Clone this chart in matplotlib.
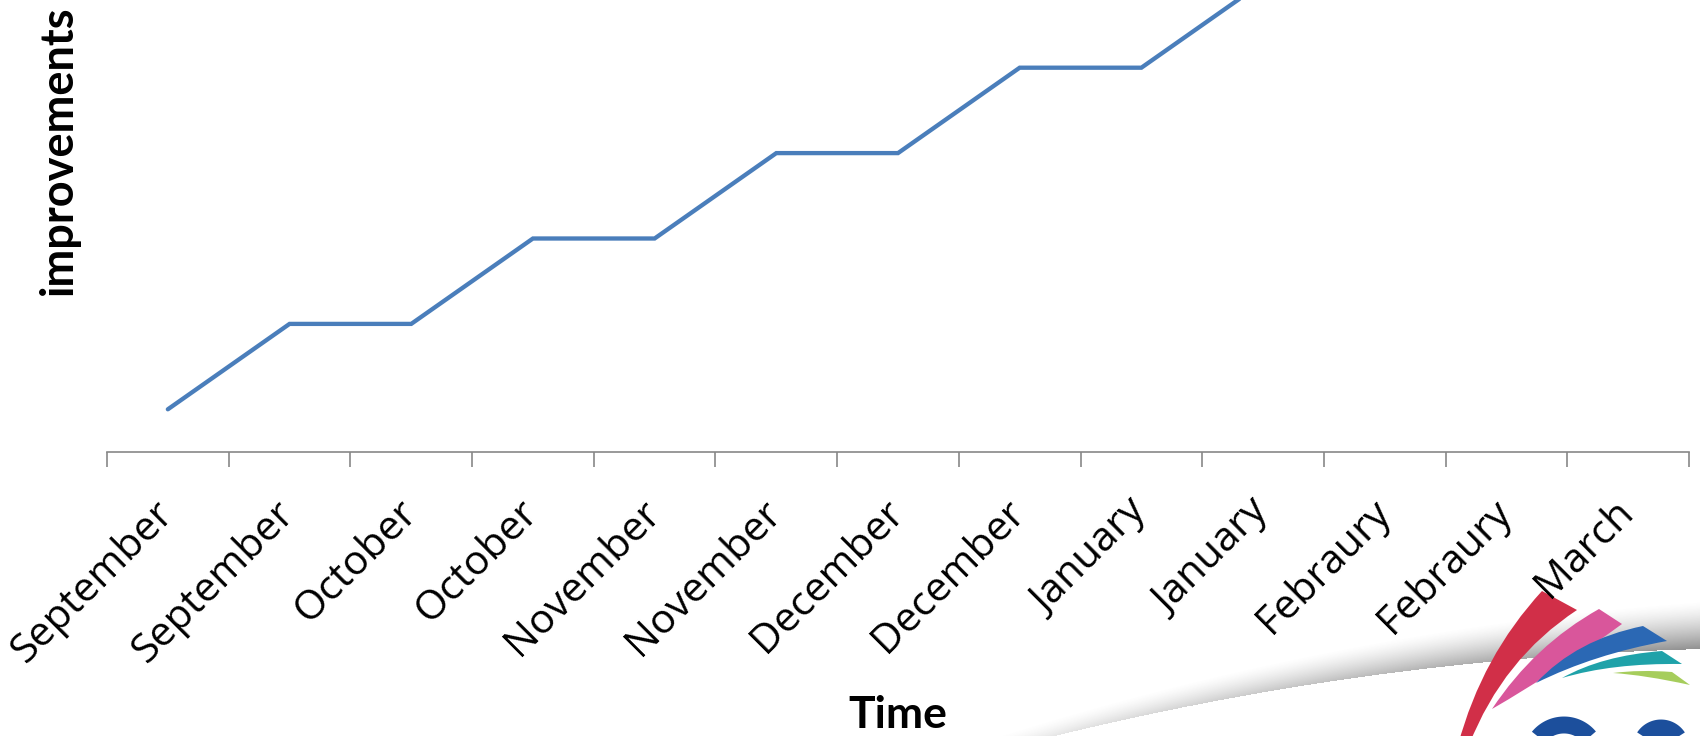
import matplotlib.pyplot as plt
import matplotlib.transforms as mtransforms
import numpy as np
from matplotlib.path import Path
from matplotlib.patches import PathPatch

# progress over the school year: one flat step per month
months = ['September', 'September', 'October', 'October', 'November',
          'November', 'December', 'December', 'January', 'January',
          'Febraury', 'Febraury', 'March']
improvements = [1, 2, 2, 3, 3, 4, 4, 5, 5, 6]

W, H = 1700, 736
fig = plt.figure(figsize=(W / 100, H / 100), dpi=100)
fig.patch.set_facecolor('white')

#####
# Logo layer, drawn in pixel units underneath the chart
#####
bg = fig.add_axes([0, 0, 1, 1], zorder=0)
bg.set_xlim(0, W)
bg.set_ylim(H, 0)
bg.axis('off')

# curled page shadow
edge_x = [1056, 1175, 1360, 1500, 1700]
edge_y = [736, 707, 676, 662, 648]
coef = np.polyfit(edge_x, edge_y, 2)
gx = np.arange(880, W)
gy = np.arange(540, H)
X, Y = np.meshgrid(gx, gy)
low = np.polyval(coef, X)
frac = np.clip((X - 900) / 800.0, 0, 1)
thick = 10 + 38 * frac
d = low - Y
prof = np.clip(1 - d / thick, 0, 1) ** 1.4
prof[d < 0] = 0
alpha = 0.75 * frac ** 0.9 * prof
img = np.zeros(X.shape + (4,))
img[..., :3] = 0.42
img[..., 3] = alpha
bg.imshow(img, extent=(880, W, H, 540), origin='upper', aspect='auto',
          interpolation='bilinear')


def blade(tip, up_mid, top, right, low_mid, color, tail=None):
    # quadratic curves forced through the given mid points
    c1 = 2 * np.array(up_mid) - (np.array(tip) + np.array(top)) / 2
    c2 = 2 * np.array(low_mid) - (np.array(right) + np.array(tail or tip)) / 2
    verts = [tip, tuple(c1), top, right, tuple(c2), tail or tip, tip]
    codes = [Path.MOVETO, Path.CURVE3, Path.CURVE3, Path.LINETO,
             Path.CURVE3, Path.CURVE3, Path.CLOSEPOLY]
    bg.add_patch(PathPatch(Path(verts, codes), fc=color, ec='none'))


blade((1458, 745), (1491, 662), (1542, 591), (1577, 610), (1513, 668),
      '#d12f48', tail=(1469, 745))
blade((1492, 709), (1540, 652), (1599, 609), (1622, 624), (1557, 669), '#d9569b')
blade((1536, 683), (1583, 647), (1643, 626), (1667, 641), (1598, 658), '#2b68b4')
blade((1562, 678), (1607, 660), (1662, 651), (1682, 664), (1617, 667), '#1fa2a9')
blade((1613, 673), (1641, 671), (1672, 672), (1690, 685), (1648, 677), '#a6cd5c')

# top of the lettering
for cx, cy, r, t0, t1 in [(1564, 758, 33, -40, 150), (1661, 748, 20, 15, 200)]:
    t = np.radians(np.linspace(t0, t1, 80))
    bg.plot(cx + r * np.cos(t), cy - r * np.sin(t), color='#1c4f9c',
            lw=12.2, solid_capstyle='butt')

#####
# The chart itself
#####
left, right = 107 / W, 1689 / W
bottom = (H - 452) / H
ax = fig.add_axes([left, bottom, right - left, 1 - bottom], zorder=1)
ax.patch.set_visible(False)

x = np.arange(len(improvements))
ax.plot(x, improvements, color='#4a7ebb', lw=3.1, solid_capstyle='round',
        solid_joinstyle='miter')

ax.set_xlim(-0.5, len(months) - 0.5)
ax.set_ylim(0.5, 0.5 + 452 / 85.4)

for s in ['top', 'right', 'left']:
    ax.spines[s].set_visible(False)
ax.spines['bottom'].set_color('#878787')
ax.spines['bottom'].set_linewidth(1.2)
ax.set_yticks([])

ax.set_xticks(np.arange(len(months)))
ax.set_xticks(np.arange(len(months) + 1) - 0.5, minor=True)
ax.tick_params(axis='x', which='major', length=0, pad=29)
ax.tick_params(axis='x', which='minor', length=11, width=1.2,
               color='#878787', direction='out')
ax.set_xticklabels(months, rotation=45, ha='right', va='top',
                   fontsize=29.5, family='Open Sans')
# nudge the rotated labels so their last letter sits on the category
shift = mtransforms.ScaledTranslation(0.14, 0, fig.dpi_scale_trans)
for lbl in ax.get_xticklabels():
    lbl.set_transform(lbl.get_transform() + shift)

ax.set_xlabel('Time', fontsize=32, fontweight='bold', family='Lato',
              va='baseline')
ax.xaxis.set_label_coords(0.5, (452 - 728) / 452)
ax.set_ylabel('improvements', fontsize=32.5, fontweight='bold', family='Lato',
              va='center', ha='center')
ax.yaxis.set_label_coords((59 - 107) / 1582, (452 - 150) / 452)

plt.savefig('out.png', dpi=100, facecolor='white')
